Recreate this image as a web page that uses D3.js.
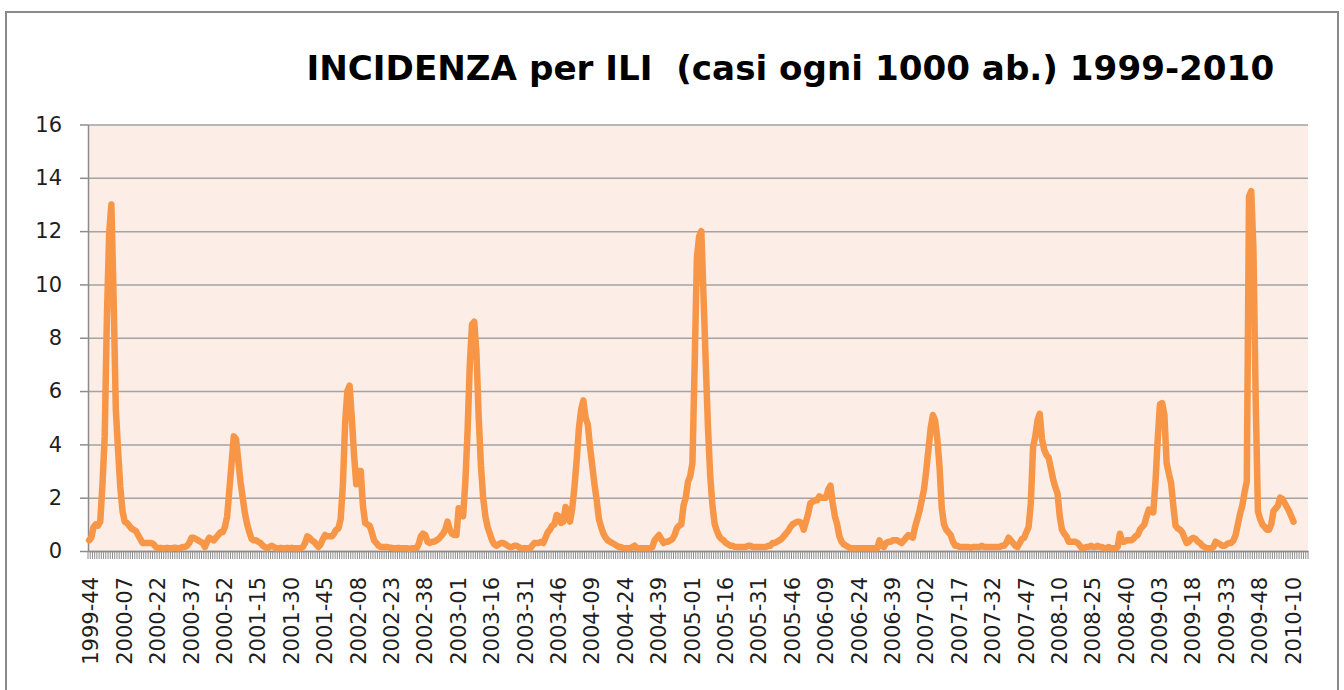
<!DOCTYPE html>
<html>
<head>
<meta charset="utf-8">
<script src="https://cdn.jsdelivr.net/npm/d3@7/dist/d3.min.js"></script>
<style>
body{margin:0;background:#fff;}
text{font-family:"DejaVu Sans",sans-serif;}
</style>
</head>
<body>
<svg id="chart"></svg>
<script>
//////////////////////////////////////////////////////////////
// data (weekly incidence per 1000)
var title = "INCIDENZA per ILI  (casi ogni 1000 ab.) 1999-2010";

var yTicks = [0,2,4,6,8,10,12,14,16];

var tickLabels = ["1999-44","2000-07","2000-22","2000-37","2000-52","2001-15",
    "2001-30","2001-45","2002-08","2002-23","2002-38","2003-01","2003-16",
    "2003-31","2003-46","2004-09","2004-24","2004-39","2005-01","2005-16",
    "2005-31","2005-46","2006-09","2006-24","2006-39","2007-02","2007-17",
    "2007-32","2007-47","2008-10","2008-25","2008-40","2009-03","2009-18",
    "2009-33","2009-48","2010-10"];

// first and last week on the category axis, years with 53 weeks
var firstWeek = {year:1999, week:44};
var lastWeek = {year:2010, week:17};
var longYears = [2004,2009];

// 1999-44 .. 2000-29
var season1999 = [0.4,0.5,0.9,1.0,0.95,1.1,2.5,4.3,8.8,11.9,13.0,9.5,5.3,
    3.8,2.4,1.5,1.1,1.05,0.95,0.85,0.8,0.75,0.6,0.45,0.3,0.3,
    0.3,0.3,0.3,0.25,0.15,0.1,0.12,0.1,0.1,0.12,0.1,0.1];
// 2000-30 .. 2001-29
var season2000 = [0.12,0.12,0.1,0.12,0.15,0.15,0.2,0.3,0.5,0.5,0.45,0.4,0.35,
    0.3,0.15,0.35,0.5,0.45,0.4,0.5,0.6,0.7,0.7,0.9,1.3,2.3,
    3.3,4.3,4.2,3.4,2.6,2.0,1.4,1.0,0.7,0.45,0.4,0.4,0.35,
    0.3,0.2,0.15,0.1,0.15,0.2,0.15,0.1,0.1,0.12,0.1,0.1,0.12];
// 2001-30 .. 2002-29
var season2001 = [0.1,0.12,0.1,0.1,0.1,0.1,0.15,0.3,0.55,0.5,0.4,0.35,0.25,
    0.15,0.25,0.45,0.6,0.55,0.55,0.55,0.65,0.8,0.85,1.2,2.5,4.8,
    6.0,6.2,5.0,3.6,2.5,3.0,3.0,1.7,1.05,1.0,0.95,0.7,0.4,
    0.3,0.2,0.15,0.15,0.15,0.15,0.12,0.12,0.1,0.1,0.12,0.1,0.1];
// 2002-30 .. 2003-29
var season2002 = [0.1,0.1,0.08,0.1,0.1,0.1,0.25,0.55,0.65,0.6,0.35,0.3,0.35,
    0.35,0.4,0.45,0.55,0.65,0.8,1.1,0.8,0.65,0.6,0.6,1.6,1.5,
    1.3,2.6,4.5,7.0,8.5,8.6,7.4,5.0,3.2,2.0,1.3,0.9,0.65,
    0.4,0.25,0.2,0.25,0.3,0.3,0.25,0.2,0.15,0.15,0.2,0.2,0.15];
// 2003-30 .. 2004-29
var season2003 = [0.1,0.1,0.1,0.1,0.1,0.2,0.3,0.3,0.3,0.35,0.3,0.5,0.7,
    0.8,0.95,1.0,1.35,1.3,1.05,1.1,1.65,1.5,1.1,1.6,2.4,3.4,
    4.6,5.3,5.65,5.0,4.75,3.9,3.2,2.5,1.9,1.2,0.9,0.65,0.5,
    0.4,0.35,0.3,0.25,0.2,0.15,0.15,0.1,0.1,0.1,0.1,0.15,0.2];
// 2004-30 .. 2005-29
var season2004 = [0.1,0.1,0.1,0.1,0.1,0.1,0.1,0.15,0.4,0.5,0.6,0.45,0.3,
    0.35,0.35,0.4,0.45,0.6,0.85,0.95,1.0,1.7,2.0,2.6,2.8,3.3,
    7.0,11.0,11.8,12.0,9.5,7.0,4.6,2.8,1.7,1.0,0.75,0.55,0.45,
    0.4,0.3,0.25,0.2,0.2,0.15,0.15,0.15,0.15,0.15,0.15,0.2,0.2,0.15];
// 2005-30 .. 2006-29
var season2005 = [0.15,0.15,0.15,0.15,0.15,0.15,0.2,0.2,0.3,0.3,0.35,0.4,0.45,
    0.55,0.65,0.75,0.9,1.0,1.05,1.1,1.1,1.05,0.8,1.1,1.4,1.8,
    1.85,1.9,1.9,2.05,2.0,2.0,2.0,2.3,2.45,1.8,1.3,1.0,0.55,
    0.35,0.25,0.2,0.15,0.1,0.1,0.1,0.1,0.1,0.1,0.1,0.1,0.1];
// 2006-30 .. 2007-29
var season2006 = [0.1,0.1,0.1,0.1,0.4,0.2,0.15,0.3,0.35,0.35,0.4,0.4,0.4,
    0.35,0.3,0.4,0.5,0.6,0.55,0.5,0.9,1.2,1.5,1.9,2.3,3.0,
    3.8,4.6,5.1,4.9,4.2,3.15,1.6,1.0,0.8,0.7,0.6,0.35,0.2,
    0.2,0.15,0.15,0.15,0.15,0.15,0.12,0.15,0.15,0.15,0.15,0.2,0.15];
// 2007-30 .. 2008-29
var season2007 = [0.15,0.15,0.15,0.15,0.15,0.15,0.15,0.2,0.2,0.3,0.5,0.4,0.3,
    0.2,0.15,0.3,0.45,0.5,0.7,0.9,1.8,3.9,4.3,4.9,5.15,4.2,
    3.8,3.6,3.5,3.1,2.7,2.4,2.15,1.3,0.8,0.65,0.55,0.35,0.35,
    0.35,0.35,0.3,0.2,0.1,0.12,0.15,0.15,0.2,0.15,0.15,0.2,0.15];
// 2008-30 .. 2009-29
var season2008 = [0.15,0.1,0.12,0.15,0.1,0.1,0.1,0.15,0.65,0.35,0.35,0.4,0.4,
    0.4,0.45,0.55,0.6,0.8,0.9,1.0,1.3,1.55,1.5,1.45,2.6,4.2,
    5.5,5.55,5.1,3.3,2.9,2.55,1.7,0.95,0.85,0.8,0.7,0.5,0.3,
    0.35,0.45,0.5,0.45,0.35,0.3,0.2,0.15,0.1,0.1,0.1,0.15,0.35];
// 2009-30 .. 2010-11
var season2009 = [0.3,0.25,0.2,0.2,0.25,0.3,0.3,0.4,0.6,1.0,1.4,1.7,2.2,
    2.6,13.3,13.5,11.3,5.7,1.5,1.2,1.0,0.9,0.8,0.8,1.0,1.5,
    1.6,1.7,2.0,1.95,1.8,1.65,1.5,1.3,1.1];

//////////////////////////////////////////////////////////////
// week labels "yyyy-ww" for the category axis
var buildWeeks = function()
{
    var weeks = [];
    var year = firstWeek.year, week = firstWeek.week;
    while(year < lastWeek.year || week <= lastWeek.week)
    {
        weeks.push(year + "-" + (week < 10 ? "0" + week : week));
        week++;
        var inYear = longYears.indexOf(year) >= 0 ? 53 : 52;
        if(week > inYear) { week = 1; year++; }
    }
    return weeks;
}

var drawChart = function(target)
{
    var screen = {width:1344, height:690};
    var plot = {left:88, right:1308, top:124.5, bottom:551};

    var weeks = buildWeeks();
    var values = [].concat(season1999,season2000,season2001,season2002,
        season2003,season2004,season2005,season2006,season2007,
        season2008,season2009);

    var svg = d3.select(target)
        .attr("width",screen.width)
        .attr("height",screen.height)

    //outer frame of the chart
    svg.append("rect")
        .attr("x",6)
        .attr("y",12)
        .attr("width",1332)
        .attr("height",720)
        .attr("fill","#fff")
        .attr("stroke","#8a8a8a")
        .attr("stroke-width",2)

    //plot area background
    svg.append("rect")
        .attr("x",plot.left)
        .attr("y",plot.top)
        .attr("width",plot.right-plot.left)
        .attr("height",plot.bottom-plot.top)
        .attr("fill","#fcede7")

    var xScale = d3.scaleBand()
        .domain(weeks)
        .range([plot.left,plot.right])
        .padding(0)

    var yScale = d3.scaleLinear()
        .domain([0,16])
        .range([plot.bottom,plot.top])

    //gridlines
    svg.append("g")
        .attr("transform","translate("+plot.left+",0)")
        .call(d3.axisLeft(yScale)
            .tickValues(yTicks)
            .tickSize(-(plot.right-plot.left))
            .tickFormat(""))
        .call(function(g){ g.select(".domain").remove(); })
        .selectAll("line")
        .attr("stroke","#a3a3a3")
        .attr("stroke-width",1.5)

    //y axis
    var yAxis = svg.append("g")
        .attr("transform","translate("+plot.left+",0)")
        .call(d3.axisLeft(yScale)
            .tickValues(yTicks)
            .tickSize(8)
            .tickSizeOuter(0)
            .tickPadding(18))
    yAxis.selectAll("line,path").attr("stroke","#8c8c8c").attr("stroke-width",1.5)
    yAxis.selectAll("text")
        .attr("font-family","DejaVu Sans")
        .attr("font-size",21)
        .attr("fill","#1e1e1e")

    //category tick marks between every week
    svg.append("g")
        .selectAll("line")
        .data(d3.range(weeks.length+1))
        .enter()
        .append("line")
        .attr("x1",function(i){ return plot.left + i*xScale.step(); })
        .attr("x2",function(i){ return plot.left + i*xScale.step(); })
        .attr("y1",plot.bottom)
        .attr("y2",plot.bottom+8)
        .attr("stroke","#8c8c8c")
        .attr("stroke-width",1)

    //x axis with a label every 15 weeks
    var xAxis = svg.append("g")
        .attr("transform","translate(0,"+plot.bottom+")")
        .call(d3.axisBottom(xScale)
            .tickValues(tickLabels)
            .tickSize(0)
            .tickSizeOuter(0))
    xAxis.select(".domain").attr("stroke","#8c8c8c").attr("stroke-width",1.5)
    xAxis.selectAll("text")
        .attr("font-family","DejaVu Sans")
        .attr("font-size",21)
        .attr("fill","#1e1e1e")
        .attr("text-anchor","end")
        .attr("transform","rotate(-90)")
        .attr("x",-26)
        .attr("y",2)
        .attr("dy","0.35em")

    //incidence line
    var lineGenerator = d3.line()
        .x(function(v,i){ return xScale(weeks[i]) + xScale.bandwidth()/2; })
        .y(function(v){ return yScale(v); })

    svg.append("path")
        .datum(values)
        .attr("d",lineGenerator)
        .attr("fill","none")
        .attr("stroke","#f79646")
        .attr("stroke-width",6.5)
        .attr("stroke-linejoin","round")
        .attr("stroke-linecap","round")

    //title, sized so it spans the same width as the original
    var titleText = svg.append("text")
        .text(title)
        .attr("x",306.5)
        .attr("y",80)
        .attr("font-family","Liberation Sans, Arial, sans-serif")
        .attr("font-weight","bold")
        .attr("font-size",40)
        .attr("fill","#000")
        .style("white-space","pre")
    var natural = titleText.node().getComputedTextLength();
    titleText.attr("font-size",Math.min(43,40*968/natural))
}

drawChart("#chart");
</script>
</body>
</html>
